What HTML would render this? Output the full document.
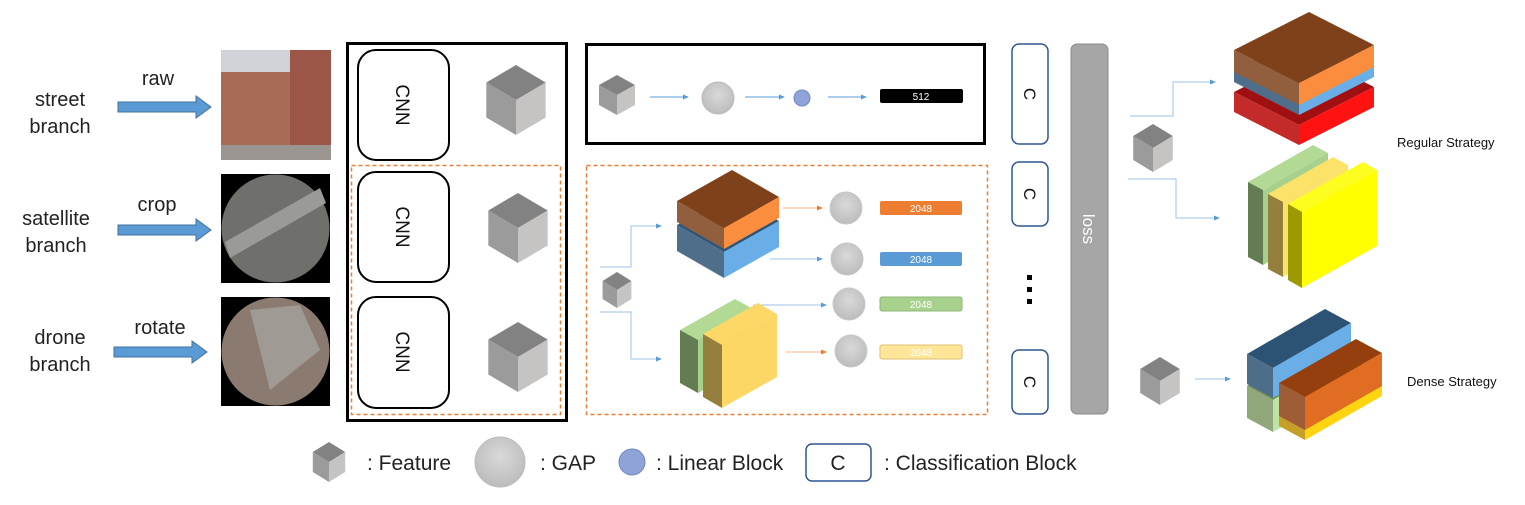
<!DOCTYPE html>
<html><head><meta charset="utf-8"><style>
html,body{margin:0;padding:0;background:#fff;width:1525px;height:505px;overflow:hidden}
svg{display:block}
text{font-family:"Liberation Sans",sans-serif}
</style></head><body>
<svg id="s" width="1525" height="505" viewBox="0 0 1525 505" xmlns="http://www.w3.org/2000/svg">
<defs>
<marker id="ab" markerWidth="6" markerHeight="6" refX="5" refY="3" orient="auto"><path d="M0,0.5 L6,3 L0,5.5z" fill="#5b9bd5"/></marker>
<marker id="ao" markerWidth="6" markerHeight="6" refX="5" refY="3" orient="auto"><path d="M0,0.5 L6,3 L0,5.5z" fill="#ed7d31"/></marker>
<radialGradient id="gc" cx="50%" cy="40%" r="60%"><stop offset="0" stop-color="#d9d9d9"/><stop offset="1" stop-color="#bcbcbc"/></radialGradient>
<g id="cube"><polygon points="0,-1 0.9,-0.5 0,0 -0.9,-0.5" fill="#828282"/><polygon points="-0.9,-0.5 0,0 0,1 -0.9,0.5" fill="#9b9b9b"/><polygon points="0,0 0.9,-0.5 0.9,0.5 0,1" fill="#c6c3c3"/></g>
</defs>
<g font-size="20" fill="#222" text-anchor="middle">
<text x="60" y="106">street</text><text x="60" y="133">branch</text>
<text x="56" y="225">satellite</text><text x="56" y="252">branch</text>
<text x="60" y="344">drone</text><text x="60" y="371">branch</text>
<text x="158" y="85">raw</text><text x="157" y="211">crop</text><text x="160" y="334">rotate</text>
</g>
<g fill="#5b9bd5" stroke="#41719c" stroke-width="1">
<polygon points="118,102 196,102 196,96 211,107 196,118 196,112 118,112"/>
<polygon points="118,225 196,225 196,219 211,230 196,241 196,235 118,235"/>
<polygon points="114,347 192,347 192,341 207,352 192,363 192,357 114,357"/>
</g>
<rect x="221" y="50" width="110" height="110" fill="#a86b55"/>
<rect x="221" y="50" width="110" height="22" fill="#cfd2d6"/>
<rect x="290" y="50" width="41" height="110" fill="#9b5647"/>
<rect x="221" y="145" width="110" height="15" fill="#9a9590"/>
<rect x="221" y="174" width="109" height="109" fill="#000"/>
<circle cx="275.5" cy="228.5" r="54" fill="#6f6f6c"/>
<path d="M225,242 L320,188 L326,203 L230,258z" fill="#9a9a96"/>
<rect x="221" y="297" width="109" height="109" fill="#000"/>
<circle cx="275.5" cy="351.5" r="54" fill="#8b7a70"/>
<path d="M250,310 L300,305 L320,350 L270,390z" fill="#a09a95"/>
<rect x="347.5" y="43.5" width="219" height="377" fill="none" stroke="#000" stroke-width="3"/>
<rect x="351.5" y="165.5" width="209" height="249" fill="none" stroke="#ed7d31" stroke-width="1.5" stroke-dasharray="4,3"/>
<g fill="none" stroke="#000" stroke-width="2">
<rect x="358" y="50" width="91" height="110" rx="18"/>
<rect x="358" y="172" width="91" height="110" rx="18"/>
<rect x="358" y="297" width="91" height="111" rx="18"/>
</g>
<g font-size="19" fill="#111" text-anchor="middle">
<text transform="translate(396,105) rotate(90)">CNN</text>
<text transform="translate(396,227) rotate(90)">CNN</text>
<text transform="translate(396,352) rotate(90)">CNN</text>
</g>
<use href="#cube" transform="translate(516,100) scale(33,35)"/>
<use href="#cube" transform="translate(518,228) scale(33,35)"/>
<use href="#cube" transform="translate(518,357) scale(33,35)"/>
<rect x="586.5" y="44.5" width="398" height="99" fill="none" stroke="#000" stroke-width="3"/>
<use href="#cube" transform="translate(617,95) scale(20,20)"/>
<circle cx="718" cy="98" r="16" fill="url(#gc)" stroke="#bbb"/>
<circle cx="802" cy="98" r="8" fill="#8fa3d8" stroke="#6f86c0"/>
<g stroke="#5b9bd5" stroke-width="1" fill="none" marker-end="url(#ab)">
<line x1="650" y1="97" x2="688" y2="97"/><line x1="745" y1="97" x2="784" y2="97"/><line x1="828" y1="97" x2="866" y2="97"/>
</g>
<rect x="880" y="89" width="83" height="14" rx="2" fill="#000"/>
<text x="921" y="100" font-size="10" fill="#fff" text-anchor="middle">512</text>
<rect x="586.5" y="165.5" width="401" height="249" fill="none" stroke="#ed7d31" stroke-width="1.5" stroke-dasharray="4,3"/>
<use href="#cube" transform="translate(617,290) scale(16,18)"/>
<g stroke="#9dc3e6" stroke-width="1" fill="none">
<polyline points="600,267 631,267 631,226 661,226" marker-end="url(#ab)"/>
<polyline points="600,312 631,312 631,359 661,359" marker-end="url(#ab)"/>
<line x1="770" y1="259" x2="822" y2="259" marker-end="url(#ab)"/>
<line x1="753" y1="305" x2="826" y2="305" marker-end="url(#ab)"/>
</g>
<g stroke="#f4b183" stroke-width="1" fill="none" marker-end="url(#ao)">
<line x1="783" y1="208" x2="822" y2="208"/><line x1="786" y1="352" x2="826" y2="352"/>
</g>
<g id="boxes"></g>
<g fill="url(#gc)" stroke="#c8c8c8">
<circle cx="846" cy="208" r="16"/><circle cx="847" cy="259" r="16"/><circle cx="849" cy="304" r="16"/><circle cx="851" cy="351" r="16"/>
</g>
<rect x="880" y="201" width="82" height="14" rx="2" fill="#ed7d31"/>
<rect x="880" y="252" width="82" height="14" rx="2" fill="#5b9bd5"/>
<rect x="880" y="297" width="82" height="14" rx="2" fill="#a9d18e" stroke="#8fb874"/>
<rect x="880" y="345" width="82" height="14" rx="2" fill="#ffe699" stroke="#e0c070"/>
<g font-size="10" fill="#fff" text-anchor="middle">
<text x="921" y="212">2048</text><text x="921" y="263">2048</text><text x="921" y="308">2048</text><text x="921" y="356">2048</text>
</g>
<g fill="#fff" stroke="#2f5597" stroke-width="1.5">
<rect x="1012" y="44" width="36" height="100" rx="7"/>
<rect x="1012" y="162" width="36" height="64" rx="7"/>
<rect x="1012" y="350" width="36" height="64" rx="7"/>
</g>
<g font-size="17" fill="#111" text-anchor="middle">
<text transform="translate(1024,94) rotate(90)">C</text>
<text transform="translate(1024,194) rotate(90)">C</text>
<text transform="translate(1024,382) rotate(90)">C</text>
</g>
<rect x="1027" y="275" width="5" height="5" fill="#000"/><rect x="1027" y="287" width="5" height="5" fill="#000"/><rect x="1027" y="299" width="5" height="5" fill="#000"/>
<rect x="1071" y="44" width="37" height="370" rx="6" fill="#a6a6a6" stroke="#8a8a8a"/>
<text transform="translate(1083,229) rotate(90)" font-size="17" fill="#fff" text-anchor="middle">loss</text>
<g stroke="#9dc3e6" stroke-width="1" fill="none">
<polyline points="1130,116 1173,116 1173,82 1215,82" marker-end="url(#ab)"/>
<polyline points="1128,179 1176,179 1176,218 1219,218" marker-end="url(#ab)"/>
<line x1="1195" y1="379" x2="1230" y2="379" marker-end="url(#ab)"/>
</g>
<use href="#cube" transform="translate(1153,148) scale(22,24)"/>
<use href="#cube" transform="translate(1160,381) scale(22,24)"/>
<text x="1397" y="147" font-size="13" fill="#111">Regular Strategy</text>
<text x="1407" y="386" font-size="13" fill="#111">Dense Strategy</text>
<use href="#cube" transform="translate(329,462) scale(18,20)"/>
<text x="367" y="470" font-size="21" fill="#222">: Feature</text>
<circle cx="500" cy="462" r="25" fill="url(#gc)" stroke="#bbb"/>
<text x="540" y="470" font-size="21" fill="#222">: GAP</text>
<circle cx="632" cy="462" r="13" fill="#8fa3d8" stroke="#6f86c0"/>
<text x="656" y="470" font-size="21" fill="#222">: Linear Block</text>
<rect x="806" y="444" width="65" height="37" rx="6" fill="#fff" stroke="#2f5597" stroke-width="1.5"/>
<text x="838" y="470" font-size="21" fill="#222" text-anchor="middle">C</text>
<text x="884" y="470" font-size="21" fill="#222">: Classification Block</text>
</svg>
<script>
var g=document.getElementById('boxes'),NS='http://www.w3.org/2000/svg';
function poly(p,c){var e=document.createElementNS(NS,'polygon');e.setAttribute('points',p.map(function(q){return q[0]+','+q[1]}).join(' '));e.setAttribute('fill',c);g.appendChild(e);}
function box(fx,fy,L,R,H,ct,cl,cr){
 poly([[fx,fy],[fx+L[0],fy+L[1]],[fx+L[0]+R[0],fy+L[1]+R[1]],[fx+R[0],fy+R[1]]],ct);
 poly([[fx,fy],[fx+L[0],fy+L[1]],[fx+L[0],fy+L[1]+H],[fx,fy+H]],cl);
 poly([[fx,fy],[fx+R[0],fy+R[1]],[fx+R[0],fy+R[1]+H],[fx,fy+H]],cr);
}
box(724,252,[-47,-27],[55,-31],26,'#2e5678','#4e6e8a','#6aaee8');
box(724,228,[-47,-27],[55,-31],21,'#7f4119','#915f3e','#fb8e3e');
box(698,340,[-18,-10],[55,-31],53,'#b2da95','#637c51','#a8d08d');
box(722,345,[-19,-11],[55,-31],63,'#fdd866','#947f3f','#fcd765');
box(1299,125,[-65,-33],[75,-38],20,'#a01010','#c32b2b','#ff1212');
box(1299,103,[-65,-33],[75,-38],12,'#2e5678','#4e6e8a','#6aaee8');
box(1299,83,[-65,-33],[75,-38],22,'#7f4119','#915f3e','#fb8e3e');
box(1263,190,[-15,-8],[65,-37],75,'#b2da95','#637c51','#a8d08d');
box(1283,202,[-15,-8],[65,-37],75,'#fde26a','#947f3f','#fde26a');
box(1302,212,[-14,-8],[75,-42],76,'#fdfd20','#9c9a00','#ffff00');
box(1273,400,[-26,-14],[78,-45],32,'#6e8e5a','#8fa77b','#bde3a6');
box(1305,420,[-26,-14],[77,-44],20,'#c09000','#c4a02a','#ffd511');
box(1273,368,[-26,-14],[78,-45],30,'#2d5374','#4d6d89','#6aaee8');
box(1305,397,[-26,-14],[77,-44],33,'#953f0f','#9e5c37','#e06d22');
</script>
</body></html>
